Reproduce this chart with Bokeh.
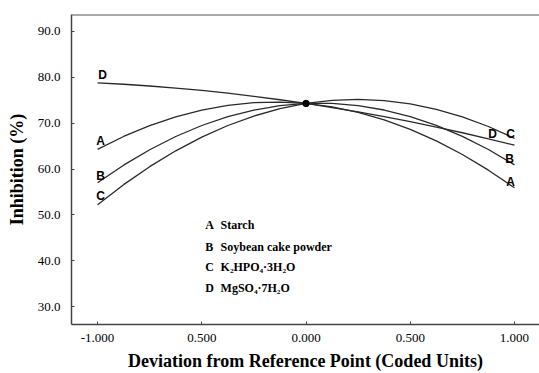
from bokeh.plotting import figure
from bokeh.models import Range1d, FixedTicker, Span, ColumnDataSource
from bokeh.core.properties import value
from bokeh.embed import file_html
from bokeh.resources import INLINE

# ---- data ----
coded = [-1.0, -0.875, -0.75, -0.625, -0.5, -0.375, -0.25, -0.125, 0.0,
         0.125, 0.25, 0.375, 0.5, 0.625, 0.75, 0.875, 1.0]
inhibition_A = [64.3, 67.1, 69.46, 71.38, 72.85, 73.88, 74.46, 74.6, 74.3,
                73.55, 72.36, 70.73, 68.65, 66.13, 63.16, 59.75, 55.9]
inhibition_B = [57.0, 60.84, 64.2, 67.09, 69.49, 71.41, 72.85, 73.82, 74.3,
                74.3, 73.83, 72.87, 71.44, 69.52, 67.13, 64.25, 60.9]
inhibition_C = [52.2, 56.59, 60.51, 63.97, 66.96, 69.49, 71.56, 73.16, 74.3,
                74.97, 75.18, 74.93, 74.21, 73.03, 71.38, 69.27, 66.7]
inhibition_D = [78.8, 78.49, 78.11, 77.65, 77.13, 76.53, 75.86, 75.11, 74.3,
                73.41, 72.46, 71.43, 70.33, 69.15, 67.91, 66.59, 65.2]
series_names = ["A", "B", "C", "D"]
legend_letters = ["A", "B", "C", "D"]
legend_texts = ["Starch", "Soybean cake powder", "K\u2082HPO\u2084\u00b73H\u2082O", "MgSO\u2084\u00b77H\u2082O"]
reference_x = [0.0]
reference_y = [74.3]
x_ticks = [-1.0, -0.5, 0.0, 0.5, 1.0]
x_tick_labels = ["-1.000", "0.500", "0.000", "0.500", "1.000"]
y_ticks = [30, 40, 50, 60, 70, 80, 90]
y_tick_labels = ["30.0", "40.0", "50.0", "60.0", "70.0", "80.0", "90.0"]

series = dict(zip(series_names, [inhibition_A, inhibition_B, inhibition_C, inhibition_D]))

X0, X1 = -1.125, 1.12
Y0, Y1 = 26.09, 93.7

p = figure(width=539, height=373, output_backend="svg", toolbar_location=None,
           x_range=Range1d(X0, X1), y_range=Range1d(Y0, Y1),
           min_border_left=71, min_border_right=0, min_border_top=14, min_border_bottom=48)
p.background_fill_color = "white"
p.border_fill_color = "white"
p.outline_line_color = None
p.grid.visible = False

SERIF = "Times New Roman, serif"
serif = value(SERIF)
sans = value("Arial, sans-serif")
axis_col = "#444444"

for ax in (p.xaxis[0], p.yaxis[0]):
    ax.axis_line_color = axis_col
    ax.axis_line_width = 1.5
    ax.major_tick_line_color = axis_col
    ax.major_tick_in = 3
    ax.major_tick_out = 0
    ax.minor_tick_line_color = None
    ax.major_label_text_font = SERIF
    ax.major_label_text_font_size = "13px"
    ax.major_label_text_color = "black"
    ax.axis_label_text_font = SERIF
    ax.axis_label_text_font_style = "bold"
    ax.axis_label_text_font_size = "18px"
    ax.axis_label_text_color = "black"

p.xaxis.ticker = FixedTicker(ticks=x_ticks)
p.xaxis.major_label_overrides = {t: l for t, l in zip(x_ticks, x_tick_labels)}
p.yaxis.ticker = FixedTicker(ticks=y_ticks)
p.yaxis.major_label_overrides = {t: l for t, l in zip(y_ticks, y_tick_labels)}
p.xaxis.axis_label = "Deviation from Reference Point (Coded Units)"
p.yaxis.axis_label = "Inhibition (%)"
p.xaxis.major_label_standoff = 9
p.xaxis.axis_label_standoff = 6
p.yaxis.major_label_standoff = 11
p.yaxis.axis_label_standoff = 8

# top frame line
p.add_layout(Span(location=Y1, dimension="width", line_color="#555555", line_width=2))

for name in series_names:
    p.line(coded, series[name], line_color="#2a2a2a", line_width=1.3)

p.scatter(reference_x, reference_y, size=6.5, color="black")

# curve-end labels (offsets in pixels)
left_off = {"A": (3, -8), "B": (3, -7), "C": (3, -9), "D": (5, -8)}
right_off = {"A": (-4, -6), "B": (-5, -6), "C": (-4, -4), "D": (-22, -11)}
for name in series_names:
    ys = series[name]
    for xv, yv, off in ((coded[0], ys[0], left_off[name]), (coded[-1], ys[-1], right_off[name])):
        p.text(x=[xv], y=[yv], text=[name], x_offset=off[0], y_offset=off[1],
               text_font=sans, text_font_style="bold", text_font_size="12px",
               text_align="center", text_baseline="middle", text_color="black")

# legend block
leg_x_letter = -0.483
leg_x_text = -0.41
leg_y = [47.8, 43.0, 38.7, 34.1]
src = ColumnDataSource(dict(xl=[leg_x_letter] * 4, xt=[leg_x_text] * 4, y=leg_y,
                            l=legend_letters, t=legend_texts))
p.text(x="xl", y="y", text="l", source=src, text_font=serif, text_font_style="bold",
       text_font_size="12px", text_align="left", text_baseline="middle", text_color="black")
p.text(x="xt", y="y", text="t", source=src, text_font=serif, text_font_style="bold",
       text_font_size="12px", text_align="left", text_baseline="middle", text_color="black")

open("out.html", "w").write(file_html(p, INLINE))
